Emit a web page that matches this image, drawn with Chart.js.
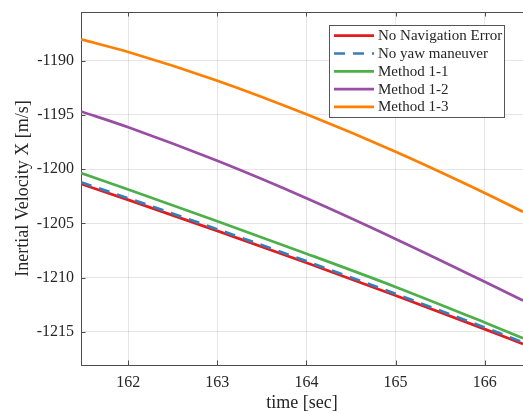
<!DOCTYPE html>
<html>
<head>
<meta charset="utf-8">
<script src="https://cdn.jsdelivr.net/npm/chart.js@4/dist/chart.umd.min.js"></script>
<style>
  html, body { margin: 0; padding: 0; background: #fff; }
</style>
</head>
<body>
<canvas id="chart" width="523" height="414"></canvas>
<script>
const times = [161.47, 162, 163, 164, 165, 166, 166.43];
const noNavError = [-1201.36, -1202.83, -1205.69, -1208.63, -1211.65, -1214.75, -1216.12];
const noYaw = [-1201.21, -1202.68, -1205.54, -1208.48, -1211.5, -1214.6, -1215.97];
const method11 = [-1200.35, -1201.88, -1204.81, -1207.79, -1210.86, -1214.14, -1215.59];
const method12 = [-1194.67, -1196.13, -1199.23, -1202.68, -1206.43, -1210.38, -1212.12];
const method13 = [-1188.02, -1189.19, -1191.84, -1194.94, -1198.39, -1202.19, -1203.93];

const seriesLabels = ['No Navigation Error', 'No yaw maneuver', 'Method 1-1', 'Method 1-2', 'Method 1-3'];
const seriesValues = [noNavError, noYaw, method11, method12, method13];
const seriesColors = ['#e41a1c', '#377eb8', '#4daf4a', '#984ea3', '#ff7f00'];

const xTicks = [162, 163, 164, 165, 166];
const yTicks = [-1215, -1210, -1205, -1200, -1195, -1190];

const serif = 'Liberation Serif, Times New Roman, serif';
const textColor = '#262626';

const chartCanvas = document.getElementById('chart');
const chartContext = chartCanvas.getContext('2d');

const datasets = seriesValues.map((values, i) => ({
  label: seriesLabels[i],
  data: values.map((v, j) => ({ x: times[j], y: v })),
  borderColor: seriesColors[i],
  backgroundColor: seriesColors[i],
  borderWidth: 2.7,
  borderDash: i === 1 ? [11, 8] : [],
  pointRadius: 0,
  cubicInterpolationMode: 'monotone',
  fill: false,
  order: seriesValues.length - 1 - i
}));

// box top line, inward tick marks and the legend inside the axes
const boxPlugin = {
  id: 'box',
  afterDraw(chart) {
    const ctx = chart.ctx;
    const area = chart.chartArea;
    const xs = chart.scales.x;
    const ys = chart.scales.y;
    ctx.save();
    ctx.strokeStyle = '#4d4d4d';
    ctx.lineWidth = 1;
    ctx.beginPath();
    ctx.moveTo(area.left, area.top + 0.5);
    ctx.lineTo(area.right, area.top + 0.5);
    xTicks.forEach(t => {
      const px = Math.round(xs.getPixelForValue(t)) + 0.5;
      ctx.moveTo(px, area.bottom);
      ctx.lineTo(px, area.bottom - 4.5);
      ctx.moveTo(px, area.top);
      ctx.lineTo(px, area.top + 4.5);
    });
    yTicks.forEach(t => {
      const py = Math.round(ys.getPixelForValue(t)) + 0.5;
      ctx.moveTo(area.left, py);
      ctx.lineTo(area.left + 4.5, py);
    });
    ctx.stroke();

    // legend
    const bx = 329.5, by = 25.5, bw = 175, bh = 92;
    ctx.fillStyle = '#fff';
    ctx.fillRect(bx, by, bw, bh);
    ctx.strokeStyle = '#555';
    ctx.strokeRect(bx, by, bw, bh);
    ctx.font = '15px ' + serif;
    ctx.textBaseline = 'middle';
    ctx.textAlign = 'left';
    chart.data.datasets.forEach((ds, i) => {
      const y = 35.7 + i * 17.8;
      ctx.strokeStyle = ds.borderColor;
      ctx.lineWidth = 2.7;
      ctx.setLineDash(ds.borderDash);
      ctx.beginPath();
      ctx.moveTo(334, y);
      ctx.lineTo(374, y);
      ctx.stroke();
      ctx.setLineDash([]);
      ctx.fillStyle = textColor;
      ctx.fillText(ds.label, 378, y + 0.5);
    });
    ctx.restore();
  }
};

new Chart(chartContext, {
  type: 'line',
  data: { datasets: datasets },
  options: {
    responsive: false,
    animation: false,
    layout: { padding: { top: 12, right: 0, left: 0, bottom: 0 } },
    plugins: { legend: { display: false }, tooltip: { enabled: false } },
    scales: {
      x: {
        type: 'linear',
        min: 161.47,
        max: 166.43,
        afterBuildTicks: scale => { scale.ticks = xTicks.map(v => ({ value: v })); },
        afterFit: scale => {
          scale.height = 49;
          scale.paddingLeft = 0;
          scale.paddingRight = 0;
        },
        ticks: {
          padding: 8,
          color: textColor,
          font: { family: serif, size: 16 },
          callback: v => String(v)
        },
        grid: { color: 'rgba(0,0,0,0.1)', drawTicks: false },
        border: { color: '#4d4d4d', width: 1 },
        title: {
          display: true,
          text: 'time [sec]',
          color: textColor,
          font: { family: serif, size: 18 },
          padding: { top: 0, bottom: 0 }
        }
      },
      y: {
        type: 'linear',
        min: -1218.06,
        max: -1185.5,
        afterBuildTicks: scale => { scale.ticks = yTicks.map(v => ({ value: v })); },
        afterFit: scale => {
          scale.width = 81;
          scale.paddingTop = 0;
          scale.paddingBottom = 0;
        },
        ticks: {
          padding: 7,
          color: textColor,
          font: { family: serif, size: 16 },
          callback: v => String(v)
        },
        grid: { color: 'rgba(0,0,0,0.1)', drawTicks: false },
        border: { color: '#4d4d4d', width: 1 },
        title: {
          display: true,
          text: 'Inertial Velocity X [m/s]',
          color: textColor,
          font: { family: serif, size: 18 },
          padding: { top: 12, bottom: 0 }
        }
      }
    }
  },
  plugins: [boxPlugin]
});
</script>
</body>
</html>
